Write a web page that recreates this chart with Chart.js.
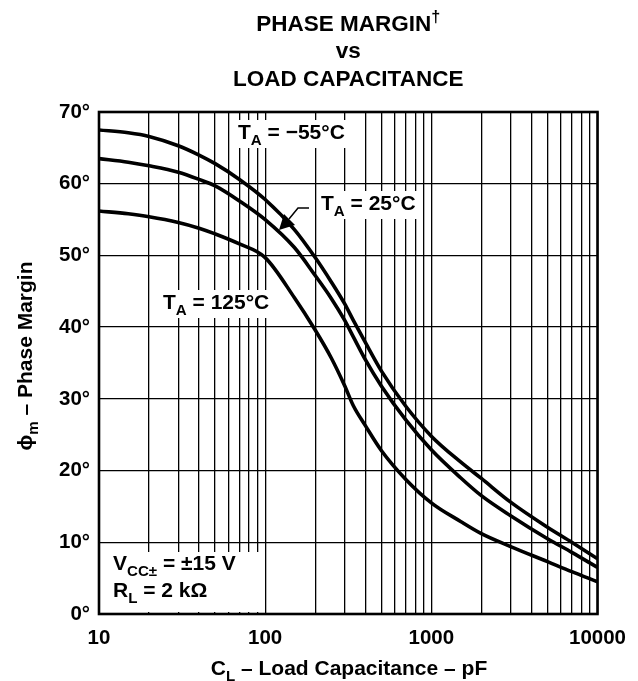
<!DOCTYPE html>
<html>
<head>
<meta charset="utf-8">
<script src="https://cdn.jsdelivr.net/npm/chart.js@4/dist/chart.umd.min.js"></script>
<style>
  html, body { margin: 0; padding: 0; background: #fff; }
  #wrap { width: 638px; height: 681px; }
</style>
</head>
<body>
<div id="wrap"><canvas id="phaseChart"></canvas></div>
<script>
// load capacitance (pF) and phase margin (deg) for each temperature
var capacitance = [10, 15, 20, 30, 40, 50, 70, 100, 150, 200, 250, 300, 340, 400, 500, 700, 1000, 1500, 2000, 3000, 5000, 7000, 10000];
var marginCold  = [67.5, 67.1, 66.6, 65.3, 64.0, 62.8, 60.6, 57.8, 53.6, 49.7, 46.3, 43.3, 40.9, 37.9, 33.9, 29.0, 24.8, 21.2, 18.9, 15.6, 12.1, 10.0, 7.7];
var marginRoom  = [63.5, 63.0, 62.5, 61.6, 60.6, 59.7, 57.6, 55.0, 51.1, 47.2, 44.0, 41.0, 38.6, 35.5, 31.8, 27.1, 22.9, 19.0, 16.5, 13.7, 10.5, 8.6, 6.5];
var marginHot   = [56.2, 55.8, 55.4, 54.6, 53.8, 53.0, 51.6, 49.7, 44.1, 39.6, 35.7, 31.9, 29.0, 26.3, 22.8, 18.8, 15.5, 12.9, 11.2, 9.4, 7.3, 5.9, 4.5];

var xGrid = [10, 20, 30, 40, 50, 60, 70, 80, 90,
             100, 200, 300, 400, 500, 600, 700, 800, 900,
             1000, 2000, 3000, 4000, 5000, 6000, 7000, 8000, 9000, 10000];
var xLabels = [10, 100, 1000, 10000];
var yTicks = [0, 10, 20, 30, 40, 50, 60, 70];

var FONT = '"Liberation Sans", Arial, Helvetica, sans-serif';

function pts(ys) {
  return capacitance.map(function (c, i) { return { x: c, y: ys[i] }; });
}

// text built from pieces: [text, kind], kind is 'n', 'sub' or 'sup'
function richWidth(ctx, parts, size) {
  var w = 0;
  parts.forEach(function (p) {
    var s = p[1] === 'n' ? size : size * 0.72;
    ctx.font = 'bold ' + s + 'px ' + FONT;
    w += ctx.measureText(p[0]).width;
  });
  return w;
}
function drawRich(ctx, parts, x, y, size, align) {
  var w = richWidth(ctx, parts, size);
  var cx = align === 'center' ? x - w / 2 : x;
  ctx.textBaseline = 'alphabetic';
  ctx.textAlign = 'left';
  parts.forEach(function (p) {
    var s = size, dy = 0;
    if (p[1] === 'sub') { s = size * 0.72; dy = size * 0.28; }
    if (p[1] === 'sup') { s = size * 0.72; dy = -size * 0.42; }
    ctx.font = 'bold ' + s + 'px ' + FONT;
    ctx.fillText(p[0], cx, y + dy);
    cx += ctx.measureText(p[0]).width;
  });
  return w;
}

var notes = [
  { parts: [['T', 'n'], ['A', 'sub'], [' = \u221255\u00b0C', 'n']], x: 238, y: 139 },
  { parts: [['T', 'n'], ['A', 'sub'], [' = 25\u00b0C', 'n']], x: 321, y: 210 },
  { parts: [['T', 'n'], ['A', 'sub'], [' = 125\u00b0C', 'n']], x: 163, y: 309 }
];

var annotations = {
  id: 'annotations',
  beforeDatasetsDraw: function (chart) {
    var ctx = chart.ctx, a = chart.chartArea;
    ctx.save();
    ctx.fillStyle = '#fff';
    notes.forEach(function (n) {
      var w = richWidth(ctx, n.parts, 21);
      ctx.fillRect(n.x - 4, n.y - 19, w + 8, 28);
    });
    // conditions box
    ctx.fillRect(a.left + 2, 552, 158, a.bottom - 554);
    ctx.fillStyle = '#000';
    notes.forEach(function (n) { drawRich(ctx, n.parts, n.x, n.y, 21, 'left'); });
    drawRich(ctx, [['V', 'n'], ['CC\u00b1', 'sub'], [' = \u00b115 V', 'n']], 113, 570, 21, 'left');
    drawRich(ctx, [['R', 'n'], ['L', 'sub'], [' = 2 k\u03a9', 'n']], 113, 597, 21, 'left');

    // pointer for the 25 C curve
    ctx.strokeStyle = '#000';
    ctx.lineWidth = 1.5;
    ctx.beginPath();
    ctx.moveTo(309, 208);
    ctx.lineTo(298, 208);
    ctx.lineTo(289, 219);
    ctx.stroke();
    ctx.beginPath();
    ctx.moveTo(279, 230);
    ctx.lineTo(284, 214);
    ctx.lineTo(295, 225);
    ctx.closePath();
    ctx.fill();
    ctx.restore();
  },
  afterDatasetsDraw: function (chart) {
    var ctx = chart.ctx, a = chart.chartArea;
    ctx.save();
    ctx.strokeStyle = '#000';
    ctx.lineWidth = 2.6;
    ctx.strokeRect(a.left, a.top, a.right - a.left, a.bottom - a.top);

    ctx.fillStyle = '#000';
    var mid = (a.left + a.right) / 2;
    drawRich(ctx, [['PHASE MARGIN', 'n'], ['\u2020', 'sup']], mid, 31, 22.5, 'center');
    drawRich(ctx, [['vs', 'n']], mid, 58, 22.5, 'center');
    drawRich(ctx, [['LOAD CAPACITANCE', 'n']], mid, 86, 22.5, 'center');

    drawRich(ctx, [['C', 'n'], ['L', 'sub'], [' \u2013 Load Capacitance \u2013 pF', 'n']], 349, 675, 21, 'center');

    ctx.translate(32, 356);
    ctx.rotate(-Math.PI / 2);
    drawRich(ctx, [['\u03d5', 'n'], ['m', 'sub'], [' \u2013 Phase Margin', 'n']], 0, 0, 21, 'center');
    ctx.restore();
  }
};

var lineStyle = {
  borderColor: '#000',
  borderWidth: 3.6,
  pointRadius: 0,
  fill: false,
  showLine: true,
  cubicInterpolationMode: 'monotone'
};

new Chart(document.getElementById('phaseChart'), {
  type: 'scatter',
  data: {
    datasets: [
      Object.assign({ label: '-55', data: pts(marginCold) }, lineStyle),
      Object.assign({ label: '25', data: pts(marginRoom) }, lineStyle),
      Object.assign({ label: '125', data: pts(marginHot) }, lineStyle)
    ]
  },
  options: {
    responsive: true,
    maintainAspectRatio: false,
    animation: false,
    layout: { padding: { left: 0, right: 32, top: 112, bottom: 0 } },
    plugins: { legend: { display: false }, tooltip: { enabled: false } },
    scales: {
      x: {
        type: 'logarithmic',
        min: 10,
        max: 10000,
        afterFit: function (s) { s.height = 67; },
        afterBuildTicks: function (s) {
          s.ticks = xGrid.map(function (v) { return { value: v }; });
        },
        grid: { color: '#000', lineWidth: 1.3, drawTicks: false },
        border: { display: false },
        ticks: {
          autoSkip: false,
          maxRotation: 0,
          padding: 12,
          color: '#000',
          font: { family: FONT, size: 20.5, weight: 'bold' },
          callback: function (v) { return xLabels.indexOf(v) >= 0 ? String(v) : ''; }
        }
      },
      y: {
        min: 0,
        max: 70,
        afterFit: function (s) { s.width = 99; },
        afterBuildTicks: function (s) {
          s.ticks = yTicks.map(function (v) { return { value: v }; });
        },
        grid: { color: '#000', lineWidth: 1.3, drawTicks: false },
        border: { display: false },
        ticks: {
          padding: 9,
          color: '#000',
          font: { family: FONT, size: 20.5, weight: 'bold' },
          callback: function (v) { return v + '\u00b0'; }
        }
      }
    }
  },
  plugins: [annotations]
});
</script>
</body>
</html>
